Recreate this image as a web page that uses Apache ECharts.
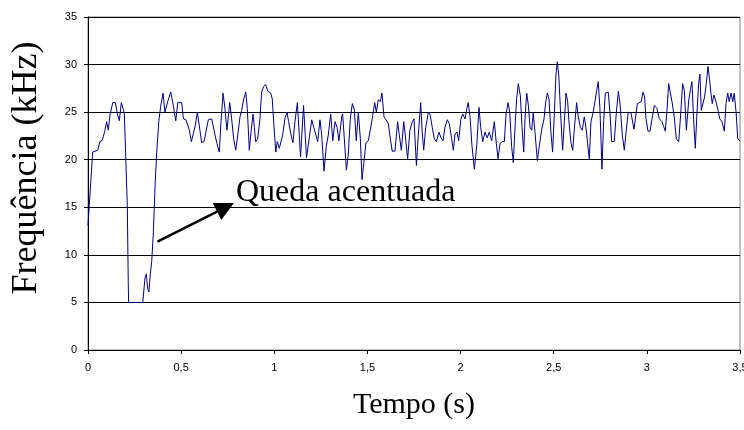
<!DOCTYPE html>
<html>
<head>
<meta charset="utf-8">
<script src="https://cdn.jsdelivr.net/npm/echarts@6/dist/echarts.min.js"></script>
<style>html,body{margin:0;padding:0;background:#fff}#c{width:744px;height:430px}</style>
</head>
<body>
<div id="c"></div>
<script>
// Time (s)
var times = [
0,0.025,0.034,0.052,0.064,0.075,0.082,0.091,0.100,0.109,0.118,0.133,0.147,0.159,0.168,0.179,0.186,0.195,0.204,0.211,0.216,0.218,
0.294,0.299,0.306,0.313,0.320,0.327,0.334,0.342,0.351,0.361,0.369,0.380,0.390,0.403,0.413,0.428,0.444,0.458,0.471,0.482,0.503,0.512,
0.526,0.535,0.544,0.555,0.565,0.576,0.587,
0.610,0.623,0.633,0.646,0.664,0.673,0.682,0.692,0.705,0.714,0.725,0.735,0.746,0.761,0.771,0.782,0.793,0.804,0.816,0.825,0.836,0.847,
0.855,0.866,0.875,0.886,0.893,0.900,0.911,0.923,0.932,0.943,0.954,0.965,0.981,0.989,0.998,1.008,1.016,1.027,1.036,1.045,1.057,1.068,
1.077,1.090,1.100,1.111,1.124,1.141,1.157,1.173,
1.190,1.201,1.212,1.222,1.233,1.245,1.254,1.267,1.279,1.290,1.303,1.314,1.326,1.337,1.347,1.362,1.367,1.376,1.387,1.397,1.408,1.419,
1.430,1.440,1.451,1.462,1.471,1.481,1.492,1.505,1.515,1.526,1.539,1.548,1.558,1.569,1.578,1.589,1.600,1.612,1.623,1.633,1.648,1.662,
1.671,1.682,1.695,1.703,1.716,1.728,1.741,1.750,1.763,
1.773,1.786,1.794,1.802,1.813,1.827,1.837,1.848,1.859,1.870,1.884,1.895,1.906,1.916,1.929,1.939,1.952,1.961,1.970,1.981,1.990,2.001,
2.011,2.024,2.034,2.041,2.051,2.061,2.074,2.087,2.099,2.108,2.119,2.131,2.143,2.154,2.167,2.181,2.192,2.201,2.212,2.224,2.235,2.244,
2.255,2.264,2.274,2.283,2.294,2.301,2.310,2.321,2.330,2.339,2.347,2.355,
2.364,2.373,2.382,2.390,2.399,2.412,2.423,2.435,2.448,2.457,2.466,2.475,2.485,2.494,2.503,2.512,2.519,2.527,2.535,2.543,2.548,2.557,
2.566,2.575,2.582,2.593,2.602,2.610,2.623,2.632,2.643,2.653,2.664,2.673,2.682,2.691,2.700,2.712,2.722,2.731,2.739,2.748,2.754,2.759,
2.768,2.777,2.793,2.802,2.811,2.825,2.836,2.847,2.857,2.868,2.879,2.890,2.900,2.915,2.931,2.949,
2.956,2.970,2.979,2.988,2.995,3.006,3.017,3.028,3.040,3.045,3.054,3.067,3.081,3.090,3.099,3.108,3.117,3.123,3.135,3.147,3.158,3.171,
3.183,3.192,3.201,3.212,3.225,3.235,3.242,3.251,3.260,3.269,3.278,3.285,3.292,3.300,3.310,3.319,3.328,3.337,3.344,3.351,3.360,3.371,
3.382,3.391,3.403,3.416,3.425,3.434,3.442,3.452,3.461,3.469,3.479,3.488,3.500
];
// Frequency (kHz)
var freq = [
13.1,20.8,21.0,21.0,21.9,22.0,22.4,23.1,24.0,23.1,24.7,26.0,26.0,24.7,24.1,26.0,25.9,24.9,19.4,15.2,7.2,5.0,
5.0,5.1,7.6,8.0,6.5,6.1,7.9,9.3,12.4,17.7,20.8,24.0,25.6,27.0,25.0,26.1,27.1,25.7,24.1,26.0,26.0,24.3,
24.2,24.0,23.1,21.9,21.9,23.6,25.0,
21.8,21.9,22.9,24.2,24.3,24.1,22.6,21.7,20.8,24.0,27.0,25.4,23.1,26.0,24.3,22.2,21.0,22.6,24.5,25.2,26.4,27.1,
25.4,21.0,22.9,24.8,23.4,21.9,22.2,24.3,27.1,27.7,27.9,27.2,27.0,26.4,23.6,20.8,21.9,21.2,21.0,22.6,24.3,25.0,
24.0,22.6,21.8,24.0,26.0,20.3,25.7,20.2,
22.6,24.2,23.4,22.7,21.9,24.2,22.7,18.8,21.4,22.6,24.8,22.0,24.0,23.4,22.0,24.5,24.8,22.2,18.9,20.5,24.3,25.9,
25.2,22.0,25.0,22.2,17.9,19.7,21.8,22.0,21.9,24.3,26.0,25.0,26.3,26.1,27.0,24.5,24.2,23.8,22.2,20.9,20.9,24.0,
22.6,21.0,24.0,22.6,20.1,23.1,24.0,24.3,19.4,
22.6,26.0,22.9,21.0,23.4,25.0,24.7,23.4,22.2,21.9,22.9,22.3,22.0,23.4,24.2,23.8,22.2,21.0,22.7,22.9,22.0,24.2,
24.8,24.3,25.4,26.0,24.5,21.5,19.0,21.5,25.5,23.4,21.9,22.9,22.3,22.9,22.0,24.0,21.7,20.1,21.7,21.9,21.9,24.8,
26.0,25.0,21.4,19.7,24.0,26.4,28.0,26.7,23.4,20.8,24.7,27.0,
25.7,23.4,23.1,24.9,23.0,19.9,21.5,23.1,24.3,26.1,27.0,26.3,22.9,20.8,24.7,28.9,30.3,28.9,25.7,22.6,21.0,24.0,
27.0,26.1,24.0,21.7,21.0,23.1,26.0,24.5,23.4,23.1,24.5,23.4,21.7,20.1,24.0,25.0,25.2,27.3,28.2,25.4,22.0,19.0,
24.0,27.0,27.1,24.9,21.9,21.9,24.9,27.2,25.7,22.6,21.0,23.2,25.0,24.9,23.2,25.9,
26.1,26.1,27.1,26.6,24.4,23.0,23.0,24.3,25.7,25.9,25.4,24.3,24.0,23.5,23.0,25.2,28.0,28.0,26.1,24.5,22.2,21.9,
25.2,28.0,27.3,23.1,26.3,27.5,28.2,24.2,21.2,24.9,28.0,29.0,25.2,25.0,26.6,28.0,29.8,28.4,27.0,25.9,26.8,26.1,
25.2,24.3,24.0,23.0,25.9,27.0,26.1,27.0,26.1,27.0,25.0,22.2,22.0
];
// Axis ticks
var xMin = 0, xMax = 3.5, xStep = 0.5;
var yMin = 0, yMax = 35, yStep = 5;
// Annotation arrow (data coordinates) and text
var arrowStart = [0.373, 11.4];
var arrowEnd = [0.738, 15.0];
var annotationText = 'Queda acentuada';
var xTitle = 'Tempo (s)';
var yTitle = 'Frequência (kHz)';

var chart = echarts.init(document.getElementById('c'), null, {renderer: 'canvas'});
var seriesData = times.map(function (t, i) { return [t, freq[i]]; });
var serif = '"Liberation Serif", "Times New Roman", serif';
var sans = '"Liberation Sans", Arial, sans-serif';

chart.setOption({
  backgroundColor: '#fff',
  animation: false,
  grid: {left: 88, right: 4, top: 17, bottom: 80, containLabel: false, outerBoundsMode: 'none',
         show: true, borderColor: '#808080', borderWidth: 1, backgroundColor: 'transparent'},
  xAxis: {
    type: 'value', min: xMin, max: xMax, interval: xStep,
    name: xTitle, nameLocation: 'middle', nameGap: 40,
    nameTextStyle: {fontFamily: serif, fontSize: 30, color: '#000'},
    axisLine: {lineStyle: {color: '#000', width: 1}},
    axisTick: {show: true, length: 4, lineStyle: {color: '#000'}},
    splitLine: {show: false},
    axisLabel: {color: '#000', fontFamily: sans, fontSize: 11, margin: 12, hideOverlap: false,
      formatter: function (v) { return String(v).replace('.', ','); }}
  },
  yAxis: {
    type: 'value', min: yMin, max: yMax, interval: yStep,
    axisLine: {show: true, lineStyle: {color: '#000', width: 1}},
    axisTick: {show: true, length: 4, lineStyle: {color: '#000'}},
    splitLine: {show: true, lineStyle: {color: '#000', width: 1}},
    axisLabel: {color: '#000', fontFamily: sans, fontSize: 11, margin: 11}
  },
  graphic: [
    {type: 'text', x: 27, y: 168, rotation: Math.PI / 2,
     style: {text: yTitle, font: '36px ' + serif, fill: '#000', align: 'center', verticalAlign: 'middle'}},
    {type: 'text', x: 236, y: 193,
     style: {text: annotationText, font: '32px ' + serif, fill: '#000', align: 'left', verticalAlign: 'middle'}}
  ],
  series: [{
    type: 'line', data: seriesData, showSymbol: false, symbol: 'none',
    lineStyle: {color: '#000080', width: 1}, silent: true,
    markLine: {
      silent: true, symbol: ['none', 'triangle'], symbolSize: [19, 19],
      label: {show: false},
      lineStyle: {color: '#000', width: 2.5, type: 'solid'},
      data: [[{coord: arrowStart}, {coord: arrowEnd}]]
    }
  }]
});
</script>
</body>
</html>
